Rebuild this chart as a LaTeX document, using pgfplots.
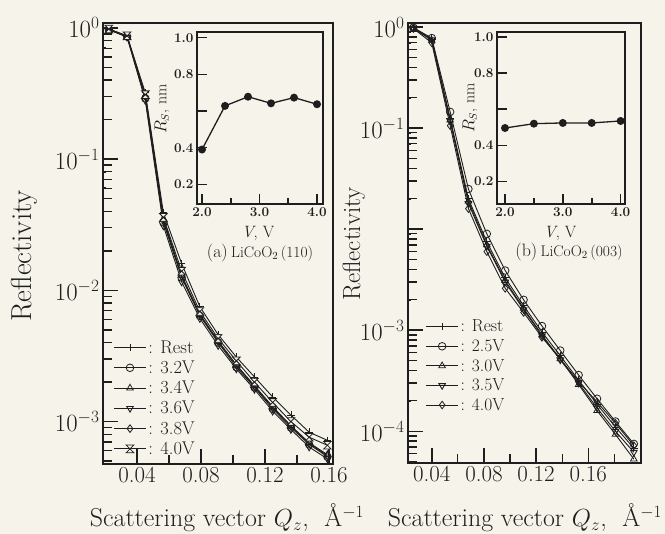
\documentclass[border=0pt]{standalone}
\usepackage{pgfplots}
\usepackage{pgfplotstable}
\pgfplotsset{compat=1.18}
\definecolor{paper}{RGB}{246,243,234}
\definecolor{ink}{RGB}{30,30,30}

\pgfdeclareplotmark{hourglass}{%
  \pgfpathmoveto{\pgfqpoint{-\pgfplotmarksize}{\pgfplotmarksize}}%
  \pgfpathlineto{\pgfqpoint{\pgfplotmarksize}{\pgfplotmarksize}}%
  \pgfpathlineto{\pgfqpoint{-\pgfplotmarksize}{-\pgfplotmarksize}}%
  \pgfpathlineto{\pgfqpoint{\pgfplotmarksize}{-\pgfplotmarksize}}%
  \pgfpathclose
  \pgfusepathqfillstroke}

\pgfplotstableread{
x      rest    v32     v34     v36     v38     v40
0.0224 0.98    0.97    0.97    0.97    0.97    0.98
0.0338 0.87    0.86    0.86    0.85    0.86    0.87
0.0452 0.32    0.29    0.30    0.28    0.30    0.31
0.0565 0.039   0.033   0.035   0.031   0.034   0.036
0.0679 0.0160  0.0125  0.0130  0.0116  0.0128  0.0140
0.0793 0.0075  0.0064  0.0066  0.0061  0.0065  0.0069
0.0907 0.0046  0.0040  0.0041  0.0038  0.0041  0.0043
0.1021 0.0031  0.0026  0.0027  0.00252 0.0027  0.0029
0.1134 0.00219 0.00182 0.00188 0.00176 0.00185 0.00200
0.1248 0.00154 0.00125 0.00130 0.00120 0.00128 0.00140
0.1362 0.00112 0.00090 0.00093 0.00087 0.00092 0.00100
0.1476 0.00083 0.00067 0.00069 0.00064 0.00068 0.00076
0.1590 0.00072 0.00054 0.00056 0.00052 0.00055 0.00066
}\lefttab

\pgfplotstableread{
x      rest     v25      v30      v35      v40
0.0259 0.99     0.99     0.98     0.98     0.97
0.0400 0.76     0.78     0.74     0.75     0.70
0.0541 0.125    0.145    0.120    0.118    0.106
0.0681 0.020    0.025    0.019    0.018    0.016
0.0822 0.0075   0.0090   0.0070   0.0068   0.0060
0.0963 0.0033   0.0039   0.0031   0.0030   0.0026
0.1104 0.00175  0.0020   0.00165  0.00160  0.00150
0.1245 0.00096  0.00110  0.00090  0.00088  0.00085
0.1385 0.00056  0.00063  0.00052  0.00051  0.00052
0.1526 0.00032  0.00036  0.00029  0.00030  0.00031
0.1667 0.000185 0.00021  0.000160 0.000170 0.000195
0.1808 0.000110 0.000125 0.000093 0.000100 0.000120
0.1949 0.000068 0.000075 0.000053 0.000062 0.000072
}\righttab

\begin{document}
\begin{tikzpicture}[x=1bp,y=1bp]
\fill[paper] (0,0) rectangle (665,534);
\useasboundingbox (0,0) rectangle (665,534);

% ---------------- left main panel
\begin{axis}[
  scale only axis, ymode=log,
  at={(103bp,70bp)}, anchor=south west,
  width=230bp, height=441bp,
  xmin=0.01875, xmax=0.1625, ymin=4.75e-4, ymax=1.09,
  tick align=inside, xtick pos=bottom, ytick pos=left,
  axis line style={line width=2.4bp, draw=ink},
  major tick length=15bp,
  every tick/.style={draw=ink, line width=1.5bp},
  tick label style={font=\fontsize{23}{26}\selectfont, text=ink},
  xtick={0.04,0.08,0.12,0.16},
  xticklabels={0.04,0.08,0.12,0.16},
  ytick={1e-3,1e-2,1e-1,1},
  yticklabels={$10^{-3}$,$10^{-2}$,$10^{-1}$,$10^{0}$},
  legend image code/.code={\draw[mark repeat=2,mark phase=2,#1] plot coordinates {(0bp,0bp) (16bp,0bp) (32bp,0bp)};},
  legend style={draw=none, fill=none, inner sep=0pt, row sep=2.2bp,
      font=\fontsize{18.5}{20}\selectfont, text=ink,
      at={(rel axis cs:0.045,0.285)}, anchor=north west},
  legend cell align=left,
  every axis plot/.append style={ink, line width=0.9bp, mark size=3.8bp,
    mark options={solid, fill=paper, line width=0.8bp}},
]
\addplot[mark=+] table[x=x,y=rest] {\lefttab};
\addlegendentry{: Rest}
\addplot[mark=o] table[x=x,y=v32] {\lefttab};
\addlegendentry{: 3.2V}
\addplot[mark=triangle] table[x=x,y=v34] {\lefttab};
\addlegendentry{: 3.4V}
\addplot[mark=triangle, mark options={rotate=180}] table[x=x,y=v36] {\lefttab};
\addlegendentry{: 3.6V}
\addplot[mark=diamond] table[x=x,y=v38] {\lefttab};
\addlegendentry{: 3.8V}
\addplot[mark=hourglass] table[x=x,y=v40] {\lefttab};
\addlegendentry{: 4.0V}
\pgfplotsinvokeforeach{1e-3,1e-2,1e-1,1}{\draw[ink, line width=1.5bp] (axis cs:0.01875,#1) -- ++(15bp,0bp);}
\pgfplotsinvokeforeach{5e-4,6e-4,7e-4,8e-4,9e-4,2e-3,3e-3,4e-3,5e-3,6e-3,7e-3,8e-3,9e-3,2e-2,3e-2,4e-2,5e-2,6e-2,7e-2,8e-2,9e-2,0.2,0.3,0.4,0.5,0.6,0.7,0.8,0.9}{\draw[ink, line width=1.3bp] (axis cs:0.01875,#1) -- ++(9bp,0bp);}
\pgfplotsinvokeforeach{0.04,0.08,0.12,0.16}{\draw[ink, line width=1.5bp] (axis cs:#1,4.75e-4) -- ++(0bp,15bp);}
\pgfplotsinvokeforeach{0.06,0.10,0.14}{\draw[ink, line width=1.3bp] (axis cs:#1,4.75e-4) -- ++(0bp,9bp);}
\end{axis}

% ---------------- right main panel
\begin{axis}[
  scale only axis, ymode=log,
  at={(408bp,71bp)}, anchor=south west,
  width=233bp, height=440bp,
  xmin=0.0218, xmax=0.2004, ymin=4.85e-5, ymax=1.1,
  tick align=inside, xtick pos=bottom, ytick pos=left,
  axis line style={line width=2.4bp, draw=ink},
  major tick length=15bp,
  every tick/.style={draw=ink, line width=1.5bp},
  tick label style={font=\fontsize{23}{26}\selectfont, text=ink},
  xtick={0.04,0.08,0.12,0.16},
  xticklabels={0.04,0.08,0.12,0.16},
  ytick={1e-4,1e-3,1e-2,1e-1,1},
  yticklabels={$10^{-4}$,$10^{-3}$,{},$10^{-1}$,$10^{0}$},
  legend image code/.code={\draw[mark repeat=2,mark phase=2,#1] plot coordinates {(0bp,0bp) (16bp,0bp) (32bp,0bp)};},
  legend style={draw=none, fill=none, inner sep=0pt, row sep=2.2bp,
      font=\fontsize{17.5}{19}\selectfont, text=ink,
      at={(rel axis cs:0.075,0.33)}, anchor=north west},
  legend cell align=left,
  every axis plot/.append style={ink, line width=0.9bp, mark size=3.8bp,
    mark options={solid, fill=paper, line width=0.8bp}},
]
\addplot[mark=+] table[x=x,y=rest] {\righttab};
\addlegendentry{: Rest}
\addplot[mark=o] table[x=x,y=v25] {\righttab};
\addlegendentry{: 2.5V}
\addplot[mark=triangle] table[x=x,y=v30] {\righttab};
\addlegendentry{: 3.0V}
\addplot[mark=triangle, mark options={rotate=180}] table[x=x,y=v35] {\righttab};
\addlegendentry{: 3.5V}
\addplot[mark=diamond] table[x=x,y=v40] {\righttab};
\addlegendentry{: 4.0V}
\pgfplotsinvokeforeach{1e-4,1e-3,1e-2,1e-1,1}{\draw[ink, line width=1.5bp] (axis cs:0.0218,#1) -- ++(15bp,0bp);}
\pgfplotsinvokeforeach{5e-5,6e-5,7e-5,8e-5,9e-5,2e-4,3e-4,4e-4,5e-4,6e-4,7e-4,8e-4,9e-4,2e-3,3e-3,4e-3,5e-3,6e-3,7e-3,8e-3,9e-3,2e-2,3e-2,4e-2,5e-2,6e-2,7e-2,8e-2,9e-2,0.2,0.3,0.4,0.5,0.6,0.7,0.8,0.9}{\draw[ink, line width=1.3bp] (axis cs:0.0218,#1) -- ++(9bp,0bp);}
\pgfplotsinvokeforeach{0.04,0.08,0.12,0.16}{\draw[ink, line width=1.5bp] (axis cs:#1,4.85e-5) -- ++(0bp,15bp);}
\pgfplotsinvokeforeach{0.06,0.10,0.14,0.18}{\draw[ink, line width=1.3bp] (axis cs:#1,4.85e-5) -- ++(0bp,9bp);}
\end{axis}

% ---------------- inset (a)
\begin{axis}[
  scale only axis,
  at={(197bp,330bp)}, anchor=south west,
  width=126bp, height=172bp,
  xmin=1.913, xmax=4.104, ymin=0.093, ymax=1.031,
  tick align=inside, xtick pos=bottom, ytick pos=left,
  axis line style={line width=1.8bp, draw=ink},
  major tick length=10bp,
  every tick/.style={draw=ink, line width=1.6bp},
  tick label style={font=\fontsize{13.5}{15}\selectfont\bfseries, text=ink},
  xtick={2,3,4}, xticklabels={2.0,3.0,4.0},
  ytick={0.2,0.4,0.6,0.8,1.0}, yticklabels={0.2,0.4,{},0.8,1.0},
  axis background/.style={fill=paper},
]
\addplot[ink, line width=1.3bp, mark=*, mark size=3.3bp]
  coordinates {(2.0,0.39) (2.4,0.628) (2.8,0.678) (3.2,0.642) (3.6,0.673) (4.0,0.637)};
\pgfplotsinvokeforeach{0.2,0.4,0.6,0.8,1.0}{\draw[ink, line width=1.6bp] (axis cs:1.913,#1) -- ++(10bp,0bp);}
\pgfplotsinvokeforeach{2,3,4}{\draw[ink, line width=1.6bp] (axis cs:#1,0.093) -- ++(0bp,10bp);}
\pgfplotsinvokeforeach{2.5,3.5}{\draw[ink, line width=1.6bp] (axis cs:#1,0.093) -- ++(0bp,6bp);}
\end{axis}

% ---------------- inset (b)
\begin{axis}[
  scale only axis,
  at={(497bp,330bp)}, anchor=south west,
  width=128bp, height=172bp,
  xmin=1.862, xmax=4.076, ymin=0.075, ymax=1.028,
  tick align=inside, xtick pos=bottom, ytick pos=left,
  axis line style={line width=1.8bp, draw=ink},
  major tick length=10bp,
  every tick/.style={draw=ink, line width=1.6bp},
  tick label style={font=\fontsize{13.5}{15}\selectfont\bfseries, text=ink},
  xtick={2,3,4}, xticklabels={2.0,3.0,4.0},
  ytick={0.2,0.4,0.6,0.8,1.0}, yticklabels={0.2,0.4,{},0.8,1.0},
  axis background/.style={fill=paper},
]
\addplot[ink, line width=1.3bp, mark=*, mark size=3.3bp]
  coordinates {(2.0,0.496) (2.5,0.52) (3.0,0.524) (3.5,0.524) (4.0,0.535)};
\pgfplotsinvokeforeach{0.2,0.4,0.6,0.8,1.0}{\draw[ink, line width=1.6bp] (axis cs:1.862,#1) -- ++(10bp,0bp);}
\pgfplotsinvokeforeach{2,3,4}{\draw[ink, line width=1.6bp] (axis cs:#1,0.075) -- ++(0bp,10bp);}
\pgfplotsinvokeforeach{2.5,3.5}{\draw[ink, line width=1.6bp] (axis cs:#1,0.075) -- ++(0bp,6bp);}
\end{axis}

% ---------------- labels
\node[rotate=90, text=ink, font=\fontsize{29}{32}\selectfont] at (24,278) {Reflectivity};
\node[rotate=90, text=ink, font=\fontsize{25}{28}\selectfont] at (354,290) {Reflectivity};
\node[text=ink, font=\fontsize{26}{29}\selectfont] at (227,16) {Scattering vector $Q_z$,\ \ Å$^{-1}$};
\node[text=ink, font=\fontsize{26}{29}\selectfont] at (525,16) {Scattering vector $Q_z$,\ \ Å$^{-1}$};

\node[rotate=90, text=ink, font=\fontsize{16}{18}\selectfont] at (162,425) {$R_S$,\ nm};
\node[text=ink, font=\fontsize{16.5}{18}\selectfont] at (258,301) {\textit{V},\ V};
\node[text=ink] at (260,281) {{\fontsize{18}{20}\selectfont (a)}\ {\fontsize{15.5}{17}\selectfont LiCoO\textsubscript{2}\,(110)}};

\node[rotate=90, text=ink, font=\fontsize{16}{18}\selectfont] at (470,426) {$R_S$,\ nm};
\node[text=ink, font=\fontsize{16.5}{18}\selectfont] at (560,301) {\textit{V},\ V};
\node[text=ink] at (569,282) {{\fontsize{18}{20}\selectfont (b)}\ {\fontsize{15.5}{17}\selectfont LiCoO\textsubscript{2}\,(003)}};
\end{tikzpicture}
\end{document}
